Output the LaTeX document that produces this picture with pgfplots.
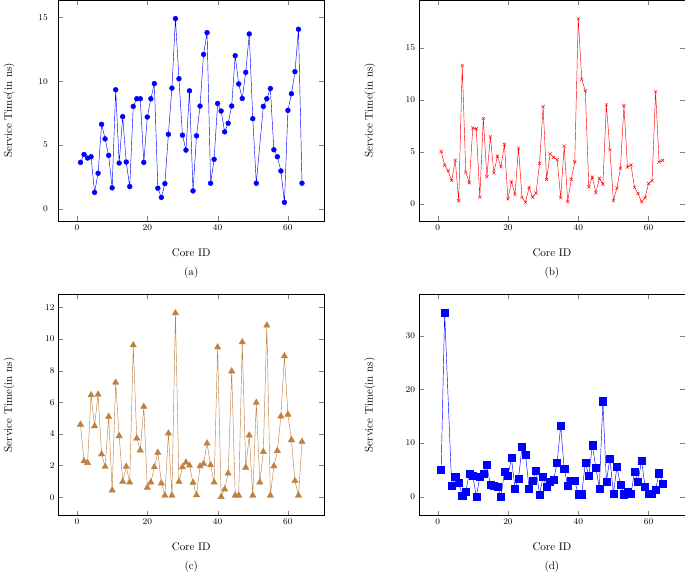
\documentclass[border=0pt]{standalone}
\usepackage{pgfplots}
\pgfplotsset{compat=1.18}
\usepgfplotslibrary{groupplots}

% (a): core 52 has no value
\pgfplotstableread{
id  t
1   3.65
2   4.27
3   3.99
4   4.09
5   1.30
6   2.80
7   6.63
8   5.49
9   4.20
10  1.66
11  9.33
12  3.60
13  7.23
14  3.68
15  1.76
16  8.03
17  8.63
18  8.63
19  3.65
20  7.20
21  8.63
22  9.82
23  1.63
24  0.91
25  1.99
26  5.85
27  9.46
28  14.9
29  10.2
30  5.78
31  4.61
32  9.25
33  1.42
34  5.73
35  8.06
36  12.1
37  13.8
38  2.02
39  3.89
40  8.26
41  7.67
42  6.04
43  6.71
44  8.06
45  12.0
46  9.79
47  8.65
48  10.7
49  13.7
50  7.07
51  2.02
53  8.03
54  8.63
55  9.43
56  4.64
57  4.09
58  2.98
59  0.52
60  7.72
61  9.02
62  10.75
63  14.07
64  2.02
}\dataa

\pgfplotstableread{
id  t
1   5.03
2   3.72
3   3.17
4   2.24
5   4.17
6   0.29
7   13.3
8   3.04
9   2.02
10  7.28
11  7.21
12  0.64
13  8.20
14  2.60
15  6.44
16  2.98
17  4.58
18  3.56
19  5.70
20  0.48
21  2.12
22  0.90
23  5.35
24  0.61
25  0.13
26  1.57
27  0.64
28  1.03
29  3.88
30  9.33
31  2.34
32  4.81
33  4.46
34  4.23
35  0.58
36  5.54
37  0.22
38  2.34
39  4.04
40  17.8
41  11.96
42  10.87
43  1.63
44  2.56
45  1.06
46  2.44
47  1.89
48  9.52
49  5.19
50  0.29
51  1.51
52  3.43
53  9.42
54  3.53
55  3.72
56  1.57
57  0.99
58  0.19
59  0.58
60  1.96
61  2.21
62  10.77
63  4.01
64  4.17
}\datab

\pgfplotstableread{
id  t
1   4.60
2   2.28
3   2.18
4   6.46
5   4.50
6   6.50
7   2.72
8   1.93
9   5.10
10  0.44
11  7.26
12  3.87
13  0.98
14  1.93
15  0.94
16  9.62
17  3.72
18  2.97
19  5.73
20  0.61
21  0.94
22  1.90
23  2.82
24  0.88
25  0.11
26  4.04
27  0.11
28  11.65
29  0.98
30  1.90
31  2.20
32  2.01
33  0.92
34  0.13
35  1.96
36  2.11
37  3.41
38  2.03
39  0.94
40  9.49
41  0.02
42  0.50
43  1.51
44  7.97
45  0.11
46  0.11
47  9.81
48  1.88
49  3.91
50  0.11
51  5.98
52  0.94
53  2.87
54  10.87
55  0.11
56  1.96
57  2.93
58  5.12
59  8.93
60  5.23
61  3.62
62  1.03
63  0.11
64  3.51
}\datac

% (d): core 3 has no value
\pgfplotstableread{
id  t
1   4.99
2   34.2
4   2.03
5   3.70
6   2.64
7   0.18
8   0.92
9   4.36
10  3.88
11  0.11
12  3.70
13  4.31
14  5.91
15  2.22
16  2.03
17  1.85
18  0.00
19  4.62
20  3.88
21  7.21
22  1.59
23  3.44
24  9.30
25  7.87
26  1.59
27  2.96
28  4.92
29  0.48
30  3.70
31  1.85
32  2.83
33  3.14
34  6.40
35  13.25
36  5.24
37  2.09
38  2.96
39  2.96
40  0.49
41  0.49
42  6.35
43  3.94
44  9.61
45  5.48
46  1.54
47  17.8
48  2.83
49  7.15
50  0.62
51  5.61
52  2.22
53  0.49
54  1.00
55  0.50
56  4.70
57  2.80
58  6.80
59  1.90
60  0.50
61  0.50
62  1.40
63  4.40
64  2.50
}\datad

\begin{document}
\begin{tikzpicture}
\begin{groupplot}[
    group style={group size=2 by 2, horizontal sep=86pt, vertical sep=67pt},
    scale only axis, width=241pt, height=200pt,
    xtick={0,20,40,60},
    xlabel={Core ID},
    ylabel={Service Time(in ns)},
    xlabel style={at={(rel axis cs:0.5,-0.145)}, anchor=center},
    ylabel style={at={(rel axis cs:-0.185,0.5)}, anchor=center},
    tick label style={font=\footnotesize},
    title style={at={(0.5,-0.265)}, anchor=center},
]
\nextgroupplot[title={(a)}, ytick={0,5,10,15},
    yticklabel style={xshift=-6pt}]
\addplot[blue, mark=*, mark size=2.2pt] table[x=id, y=t] {\dataa};

\nextgroupplot[title={(b)}, ytick={0,5,10,15}]
\addplot[red, mark=x, mark size=2pt] table[x=id, y=t] {\datab};

\nextgroupplot[title={(c)}, ytick={0,2,...,12}]
\addplot[brown, mark=triangle*, mark size=3.3pt] table[x=id, y=t] {\datac};

\nextgroupplot[title={(d)}, ytick={0,10,20,30}]
\addplot[blue, mark=square*, mark size=3.2pt] table[x=id, y=t] {\datad};
\end{groupplot}
\end{tikzpicture}
\end{document}
